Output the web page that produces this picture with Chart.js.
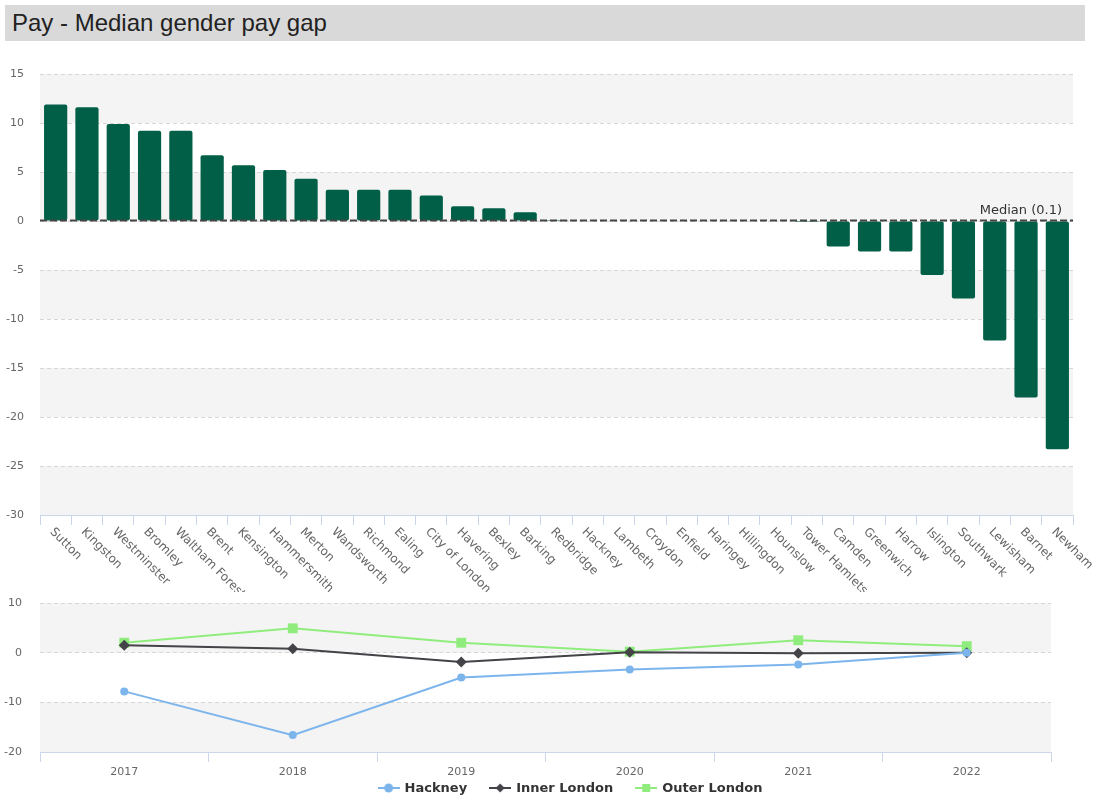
<!DOCTYPE html>
<html>
<head>
<meta charset="utf-8">
<script src="https://cdn.jsdelivr.net/npm/chart.js@4.4.1/dist/chart.umd.min.js"></script>
<style>
    html, body { margin: 0; padding: 0; background: #ffffff; }
    body { width: 1095px; height: 796px; position: relative; overflow: hidden; }
    .title {
        position: absolute; left: 5px; top: 5px; width: 1080px; height: 36px;
        background: #d9d9d9; box-sizing: border-box; padding-left: 7px;
        font-family: 'Liberation Sans', Arial, sans-serif; font-size: 24px; line-height: 36px; color: #222;
    }
    #bar-wrap { position: absolute; left: 0; top: 60px; width: 1095px; height: 532px; }
    #line-wrap { position: absolute; left: 0; top: 592px; width: 1095px; height: 204px; }
</style>
</head>
<body>
<div class="title">Pay - Median gender pay gap</div>
<div id="bar-wrap"><canvas id="gap-chart"></canvas></div>
<div id="line-wrap"><canvas id="trend-chart"></canvas></div>
<script>
const boroughs = ['Sutton', 'Kingston', 'Westminster', 'Bromley', 'Waltham Forest', 'Brent', 'Kensington',
    'Hammersmith', 'Merton', 'Wandsworth', 'Richmond', 'Ealing', 'City of London', 'Havering', 'Bexley',
    'Barking', 'Redbridge', 'Hackney', 'Lambeth', 'Croydon', 'Enfield', 'Haringey', 'Hillingdon', 'Hounslow',
    'Tower Hamlets', 'Camden', 'Greenwich', 'Harrow', 'Islington', 'Southwark', 'Lewisham', 'Barnet', 'Newham'];
const payGap = [11.9, 11.6, 9.9, 9.2, 9.2, 6.7, 5.7, 5.2, 4.3, 3.2, 3.2, 3.2, 2.6, 1.5, 1.3, 0.9, 0.1,
    0, 0, 0, 0, 0, 0, 0, -0.1, -2.6, -3.1, -3.1, -5.5, -7.9, -12.2, -18.0, -23.3];
const medianGap = 0.1;

const years = ['2017', '2018', '2019', '2020', '2021', '2022'];
const hackney = [-7.8, -16.6, -5.0, -3.4, -2.4, 0];
const innerLondon = [1.5, 0.8, -1.9, 0.1, -0.1, 0];
const outerLondon = [2.0, 4.9, 2.0, 0.2, 2.5, 1.3];

const colors = {
    bar: '#005f46',
    hackney: '#7cb5ec',
    inner: '#434348',
    outer: '#90ed7d',
    band: '#f4f4f4',
    grid: '#d6d6d6',
    axis: '#ccd6eb',
    label: '#666666',
};
const tickFont = { family: "'DejaVu Sans', sans-serif", size: 11 };

// keep the plot area where the layout padding says, not pushed by label halves
function fixYAxis(scale) {
    scale.width = 40;
    scale.paddingTop = 0;
    scale.paddingBottom = 0;
}

// alternate grey bands between y ticks, top band grey
const bandPlugin = {
    id: 'bands',
    beforeDraw(chart) {
        const { ctx, chartArea, scales } = chart;
        const ticks = scales.y.ticks.map((t) => t.value).sort((a, b) => b - a);
        ctx.save();
        ctx.fillStyle = colors.band;
        for (let i = 0; i < ticks.length - 1; i += 2) {
            const top = scales.y.getPixelForValue(ticks[i]);
            const bottom = scales.y.getPixelForValue(ticks[i + 1]);
            ctx.fillRect(chartArea.left, top, chartArea.right - chartArea.left, bottom - top);
        }
        ctx.restore();
    },
};

const medianPlugin = {
    id: 'median',
    afterDatasetsDraw(chart) {
        const { ctx, chartArea, scales } = chart;
        const y = Math.round(scales.y.getPixelForValue(medianGap)) + 0.5;
        ctx.save();
        ctx.strokeStyle = '#444444';
        ctx.lineWidth = 2;
        ctx.setLineDash([7, 3]);
        ctx.beginPath();
        ctx.moveTo(chartArea.left, y);
        ctx.lineTo(chartArea.right, y);
        ctx.stroke();
        ctx.setLineDash([]);
        ctx.fillStyle = '#333333';
        ctx.font = "13px 'DejaVu Sans', sans-serif";
        ctx.textAlign = 'right';
        ctx.textBaseline = 'bottom';
        ctx.fillText('Median (' + medianGap + ')', chartArea.right - 11, y - 3);
        ctx.restore();
    },
};

// rotated category labels reading downwards from the tick
const slantLabels = {
    id: 'slantLabels',
    afterDraw(chart) {
        const { ctx, scales } = chart;
        const x = scales.x;
        ctx.save();
        ctx.font = "12px 'DejaVu Sans', sans-serif";
        ctx.fillStyle = colors.label;
        ctx.textAlign = 'left';
        ctx.textBaseline = 'middle';
        chart.data.labels.forEach((label, i) => {
            ctx.save();
            ctx.translate(x.getPixelForValue(i) - 4, x.top + 15);
            ctx.rotate(Math.PI / 4);
            ctx.fillText(label, 0, 0);
            ctx.restore();
        });
        ctx.restore();
    },
};

new Chart(document.getElementById('gap-chart'), {
    type: 'bar',
    data: {
        labels: boroughs,
        datasets: [{
            data: payGap,
            backgroundColor: colors.bar,
            borderRadius: 2,
            borderSkipped: false,
            barPercentage: 0.95,
            categoryPercentage: 0.78,
        }],
    },
    options: {
        responsive: true,
        maintainAspectRatio: false,
        animation: false,
        layout: { padding: { top: 14, right: 22, left: 0, bottom: 0 } },
        plugins: { legend: { display: false }, tooltip: { enabled: false } },
        scales: {
            x: {
                offset: true,
                grid: { offset: true, drawOnChartArea: false, tickLength: 10, color: colors.axis },
                border: { color: colors.axis },
                ticks: { display: false },
                afterFit(scale) { scale.height = 77; },
            },
            y: {
                min: -30,
                max: 15,
                ticks: { stepSize: 5, color: colors.label, font: tickFont, padding: 16 },
                grid: { color: colors.grid, drawTicks: false },
                border: { display: false, dash: [4, 3] },
                afterFit: fixYAxis,
            },
        },
    },
    plugins: [bandPlugin, medianPlugin, slantLabels],
});

function legendIcon(color, shape) {
    const c = document.createElement('canvas');
    c.width = 22;
    c.height = 12;
    const g = c.getContext('2d');
    g.strokeStyle = color;
    g.fillStyle = color;
    g.lineWidth = 2;
    g.beginPath();
    g.moveTo(0, 6);
    g.lineTo(22, 6);
    g.stroke();
    g.beginPath();
    if (shape === 'circle') {
        g.arc(11, 6, 4.5, 0, Math.PI * 2);
    } else if (shape === 'diamond') {
        g.moveTo(11, 1.5); g.lineTo(15.5, 6); g.lineTo(11, 10.5); g.lineTo(6.5, 6);
    } else {
        g.rect(7, 2, 8, 8);
    }
    g.fill();
    return c;
}

const legendIcons = [
    legendIcon(colors.hackney, 'circle'),
    legendIcon(colors.inner, 'diamond'),
    legendIcon(colors.outer, 'square'),
];

// legend row with line + marker symbols, centred under the plot
const lineLegend = {
    id: 'lineLegend',
    afterDraw(chart) {
        const { ctx } = chart;
        ctx.save();
        ctx.font = "bold 13px 'DejaVu Sans', sans-serif";
        ctx.fillStyle = '#333333';
        ctx.textAlign = 'left';
        ctx.textBaseline = 'middle';
        const items = chart.data.datasets.map((ds, i) => ({
            text: ds.label,
            icon: legendIcons[i],
            width: 22 + 5 + ctx.measureText(ds.label).width,
        }));
        const total = items.reduce((sum, it) => sum + it.width, 0) + 22 * (items.length - 1);
        let x = 570 - total / 2;
        const y = chart.height - 8;
        items.forEach((it) => {
            ctx.drawImage(it.icon, x, y - 6);
            ctx.fillText(it.text, x + 27, y + 1);
            x += it.width + 22;
        });
        ctx.restore();
    },
};

new Chart(document.getElementById('trend-chart'), {
    type: 'line',
    data: {
        labels: years,
        datasets: [
            {
                label: 'Hackney',
                data: hackney,
                borderColor: colors.hackney,
                backgroundColor: colors.hackney,
                pointStyle: 'circle',
                pointRadius: 4,
                borderWidth: 2,
                pointBorderWidth: 0,
            },
            {
                label: 'Inner London',
                data: innerLondon,
                borderColor: colors.inner,
                backgroundColor: colors.inner,
                pointStyle: 'rectRot',
                pointRadius: 5.5,
                borderWidth: 2,
                pointBorderWidth: 0,
            },
            {
                label: 'Outer London',
                data: outerLondon,
                borderColor: colors.outer,
                backgroundColor: colors.outer,
                pointStyle: 'rect',
                pointRadius: 7,
                borderWidth: 2,
                pointBorderWidth: 0,
            },
        ],
    },
    options: {
        responsive: true,
        maintainAspectRatio: false,
        animation: false,
        layout: { padding: { top: 11, right: 44, left: 0, bottom: 0 } },
        plugins: { tooltip: { enabled: false }, legend: { display: false } },
        scales: {
            x: {
                offset: true,
                grid: { offset: true, drawOnChartArea: false, tickLength: 10, color: colors.axis },
                border: { color: colors.axis },
                ticks: { color: colors.label, font: tickFont, padding: 4 },
                afterFit(scale) { scale.height = 44; },
            },
            y: {
                min: -20,
                max: 10,
                ticks: { stepSize: 10, color: colors.label, font: tickFont, padding: 18 },
                grid: { color: colors.grid, drawTicks: false },
                border: { display: false, dash: [4, 3] },
                afterFit: fixYAxis,
            },
        },
    },
    plugins: [bandPlugin, lineLegend],
});
</script>
</body>
</html>
